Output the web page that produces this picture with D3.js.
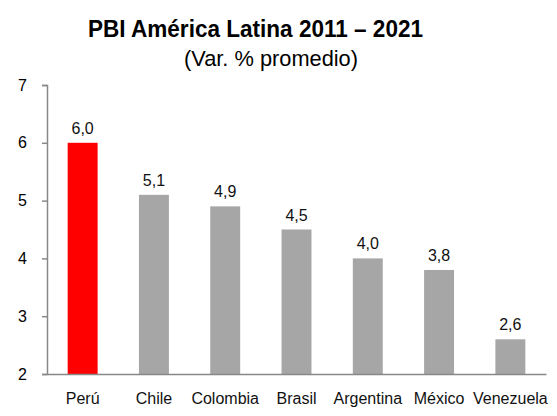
<!DOCTYPE html>
<html><head><meta charset="utf-8">
<script src="https://cdn.jsdelivr.net/npm/d3@7"></script>
<style>body{margin:0;background:#fff}</style></head>
<body><svg id="c" width="557" height="416"></svg>
<script>
const categories = ["Perú","Chile","Colombia","Brasil","Argentina","México","Venezuela"];
const values = [6.0, 5.1, 4.9, 4.5, 4.0, 3.8, 2.6];
const valueLabels = ["6,0","5,1","4,9","4,5","4,0","3,8","2,6"];
const yTicks = [2,3,4,5,6,7];
const colors = ["#ff0000","#a6a6a6","#a6a6a6","#a6a6a6","#a6a6a6","#a6a6a6","#a6a6a6"];

const svg = d3.select("#c");
const font = "'Liberation Sans',Arial,sans-serif";
const x = d3.scaleBand().domain(categories).range([47, 546]).paddingInner(0.58).paddingOuter(0.29);
const y = d3.scaleLinear().domain([2,7]).range([374, 85]);

svg.append("text").attr("x",88).attr("y",37)
  .attr("font-family",font).attr("font-weight","bold").attr("font-size",24)
  .attr("textLength",335).attr("lengthAdjust","spacingAndGlyphs").text("PBI América Latina 2011 – 2021");
svg.append("text").attr("x",184).attr("y",66)
  .attr("font-family",font).attr("font-size",22)
  .attr("textLength",174).attr("lengthAdjust","spacingAndGlyphs").text("(Var. % promedio)");

svg.selectAll("rect.bar").data(values).join("rect").attr("class","bar")
  .attr("x",(d,i)=>x(categories[i])).attr("width",x.bandwidth())
  .attr("y",d=>y(d)).attr("height",d=>y(2)-y(d)).attr("fill",(d,i)=>colors[i]);

svg.selectAll("text.val").data(values).join("text").attr("class","val")
  .attr("x",(d,i)=>x(categories[i])+x.bandwidth()/2).attr("y",d=>y(d)-9)
  .attr("text-anchor","middle").attr("font-family",font).attr("font-size",16).attr("fill","#111")
  .text((d,i)=>valueLabels[i]);

const ya = svg.append("g").attr("transform","translate(47,0)")
  .call(d3.axisLeft(y).tickValues(yTicks).tickSize(5).tickFormat(d3.format("d")));
ya.select(".domain").attr("stroke","#888").attr("stroke-width",1.5);
ya.selectAll(".tick line").attr("stroke","#888").attr("stroke-width",1.5);
ya.selectAll(".tick text").attr("font-family",font).attr("font-size",16).attr("fill","#000").attr("x",-20);

const xa = svg.append("g").attr("transform","translate(0,374)")
  .call(d3.axisBottom(x).tickSize(0).tickSizeOuter(0));
xa.select(".domain").attr("stroke","#888").attr("stroke-width",1.5);
xa.selectAll(".tick text").attr("font-family",font).attr("font-size",16).attr("fill","#111").attr("dy",0).attr("y",30);
</script></body></html>
